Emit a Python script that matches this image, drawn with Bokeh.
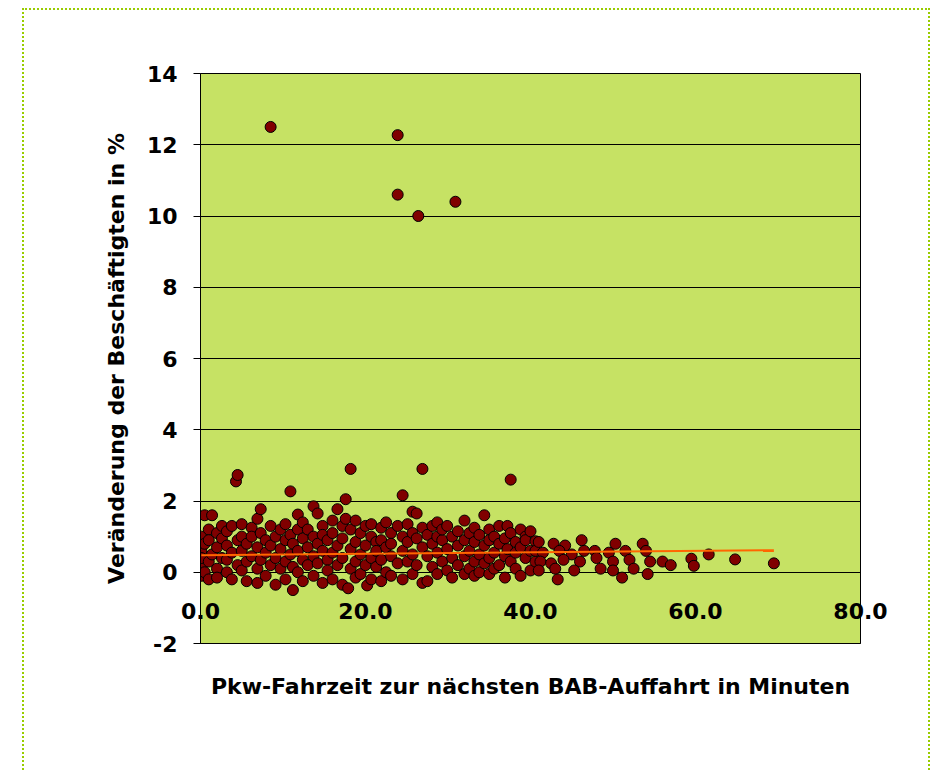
from bokeh.plotting import figure
from bokeh.models import Range1d, FixedTicker, ColumnDataSource
from bokeh.embed import file_html
from bokeh.resources import INLINE

# ---- data ----
x_minutes = [
    0.1, 0.1, 0.1, 0.1, 0.1, 0.5, 0.5, 0.5, 1.0, 1.0, 1.0, 1.0, 1.4, 1.4,
    2.0, 2.0, 2.0, 2.0, 2.6, 2.6, 2.6, 3.2, 3.2, 3.2, 3.2, 3.8, 3.8, 3.8,
    4.3, 4.5, 4.5, 4.5, 5.0, 5.0, 5.0, 5.0, 5.6, 5.6, 5.6, 6.2, 6.2, 6.2,
    6.9, 6.9, 6.9, 6.9, 7.3, 7.3, 7.3, 7.9, 7.9, 7.9, 8.5, 8.5, 8.5, 8.5,
    9.1, 9.1, 9.1, 9.7, 9.7, 9.7, 10.3, 10.3, 10.3, 10.3, 10.9, 10.9, 10.9,
    11.2, 11.2, 11.2, 11.8, 11.8, 11.8, 11.8, 12.4, 12.4, 12.4, 12.4,
    13.0, 13.0, 13.0, 13.7, 13.7, 13.7, 13.7, 14.2, 14.2, 14.2,
    14.8, 14.8, 14.8, 14.8, 15.4, 15.4, 15.4, 16.0, 16.0, 16.0, 16.0,
    16.6, 16.6, 16.6, 17.2, 17.2, 17.2, 17.2, 17.6, 17.6, 17.9,
    18.2, 18.2, 18.2, 18.2, 18.8, 18.8, 18.8, 18.8, 19.4, 19.4, 19.4,
    20.0, 20.0, 20.0, 20.2, 20.7, 20.7, 20.7, 20.7, 21.3, 21.3, 21.3,
    21.9, 21.9, 21.9, 21.9, 22.5, 22.5, 22.5, 23.1, 23.1, 23.1, 23.1,
    23.9, 23.9, 23.9, 23.9, 24.5, 24.5, 24.5, 24.5, 25.1, 25.1, 25.1,
    25.7, 25.7, 25.7, 25.7, 26.2, 26.2, 26.2, 26.4,
    26.9, 26.9, 26.9, 26.9, 27.5, 27.5, 27.5, 28.1, 28.1, 28.1,
    28.7, 28.7, 28.7, 28.7, 29.3, 29.3, 29.3, 29.9, 29.9, 29.9,
    30.5, 30.5, 30.5, 30.9, 31.2, 31.2, 31.2, 32.0, 32.0, 32.0, 32.0,
    32.6, 32.6, 32.6, 33.2, 33.2, 33.2, 33.2, 33.8, 33.8, 33.8,
    34.4, 34.4, 34.4, 35.0, 35.0, 35.0, 35.0, 35.6, 35.6, 35.6,
    36.2, 36.2, 36.2, 36.9, 36.9, 36.9, 37.2, 37.2, 37.6, 37.6, 37.6,
    38.2, 38.2, 38.2, 38.8, 38.8, 38.8, 39.4, 39.4, 39.4, 40.0, 40.0, 40.0,
    40.6, 40.6, 40.6,
    41.0, 42.8, 44.2, 46.2, 50.3, 53.6,
    41.5, 43.5, 45.0, 47.8, 49.5, 51.5, 54.0, 46.5,
    41.2, 42.5, 44.0, 46.0, 48.0, 50.0, 52.0, 54.5, 56.0, 57.0,
    41.0, 43.3, 43.0, 45.3, 48.5, 50.0, 51.1, 52.5, 54.2,
    59.5, 59.8, 61.6, 64.8, 69.5,
]
y_change = [
    0.2, 0.6, 1.0, -0.1, 0.4, 1.6, 0.8, 0.0, 1.2, 0.3, -0.2, 0.9, 1.6, 0.5,
    1.1, 0.7, 0.1, -0.15, 1.3, 0.4, 0.95, 0.0, 0.75, 1.15, 0.35, 1.3, 0.55, -0.2,
    2.55, 2.73, 0.9, 0.2, 1.35, 0.6, 0.05, 1.0, 0.3, 0.8, -0.25, 1.25, 0.45, 1.0,
    1.5, 0.7, 0.1, -0.3, 1.77, 1.1, 0.35, 0.9, 0.55, -0.1, 12.5, 1.3, 0.2, 0.75,
    1.0, 0.4, -0.35, 1.2, 0.65, 0.1, 0.9, 0.3, 1.35, -0.2, 2.27, 1.05, 0.5,
    -0.5, 0.15, 0.8, 1.62, 1.2, 0.6, 0.0, 0.95, 0.35, -0.25, 1.4,
    1.2, 0.7, 0.2, 1.85, 1.0, 0.45, -0.1, 1.65, 0.8, 0.25,
    1.3, 0.6, -0.3, 1.05, 0.9, 0.35, 0.05, 1.45, 1.1, 0.55, -0.2,
    1.77, 0.75, 0.2, 1.3, 0.95, 0.4, -0.35, 2.05, 1.5, -0.45,
    2.9, 0.65, 0.1, 1.2, 1.45, 0.85, 0.3, -0.15, 1.1, 0.5, -0.05,
    1.3, 0.75, 0.2, -0.37, 1.0, 0.4, -0.2, 1.35, 0.85, 0.15, 0.6,
    1.25, 0.9, 0.35, -0.25, 1.4, 0.7, 0.0, 1.1, 0.45, 0.8, -0.1,
    12.27, 10.6, 1.3, 0.25, 2.16, 1.0, 0.6, -0.2, 1.35, 0.85, 0.3,
    1.7, 0.5, -0.05, 1.1, 1.65, 0.95, 0.2, 10.0,
    2.9, 1.25, 0.7, -0.3, -0.25, 0.45, 1.05, 1.3, 0.8, 0.15,
    1.0, 0.55, -0.05, 1.4, 0.9, 0.3, 1.2, 1.3, 0.65, 0.05,
    1.0, 0.4, -0.15, 10.4, 1.15, 0.75, 0.2, 1.45, 0.9, 0.45, -0.05,
    1.1, 0.6, 0.1, 0.85, 0.3, 1.25, -0.1, 1.05, 0.5, 0.0,
    1.6, 0.75, 0.25, 1.2, 0.9, 0.4, -0.05, 1.0, 0.55, 0.1,
    1.3, 0.8, 0.2, 0.95, 0.45, -0.15, 1.3, 0.65, 2.6, 1.1, 0.3,
    0.85, 0.1, 0.55, 1.2, 0.7, -0.1, 1.0, 0.4, 0.9, 1.15, 0.6, 0.05,
    0.87, 0.3, 0.6,
    0.85, 0.8, 0.75, 0.9, 0.8, 0.8,
    0.55, 0.6, 0.5, 0.6, 0.55, 0.6, 0.6, 0.6,
    0.3, 0.25, 0.35, 0.3, 0.4, 0.3, 0.35, 0.3, 0.3, 0.2,
    0.05, -0.2, 0.1, 0.05, 0.1, 0.05, -0.15, 0.1, -0.05,
    0.38, 0.18, 0.5, 0.36, 0.25,
]
trend_x = [0.1, 69.5]
trend_y = [0.48, 0.62]

x_ticks = [0, 20, 40, 60, 80]
x_tick_labels = ["0.0", "20.0", "40.0", "60.0", "80.0"]
y_ticks = [-2, 0, 2, 4, 6, 8, 10, 12, 14]
y_tick_labels = ["-2", "0", "2", "4", "6", "8", "10", "12", "14"]

x_title = "Pkw-Fahrzeit zur nächsten BAB-Auffahrt in Minuten"
y_title = "Veränderung der Beschäftigten in %"

FONT = "DejaVu Sans"
FS = "22px"
FSTYLE = "bold"

p = figure(
    frame_width=660, frame_height=570,
    min_border_left=176, min_border_right=68,
    min_border_top=63, min_border_bottom=129,
    x_range=Range1d(0, 80), y_range=Range1d(-2, 14),
    x_axis_location="below", y_axis_location="left",
    output_backend="svg", toolbar_location=None,
)
p.margin = (8, 0, 0, 22)
p.styles = {"border": "2px dotted #99cc00"}
p.background_fill_color = "#c6e264"
p.border_fill_color = "white"
p.outline_line_color = "black"
p.outline_line_width = 1

# y axis
yt = FixedTicker(ticks=y_ticks)
ya = p.yaxis[0]
ya.ticker = yt
ya.major_label_overrides = {t: s for t, s in zip(y_ticks, y_tick_labels)}
ya.major_tick_out = 7
ya.major_tick_in = 0
ya.minor_tick_out = 0
ya.minor_tick_in = 0
ya.axis_line_color = "black"
ya.major_tick_line_color = "black"
ya.major_label_standoff = 16
ya.major_label_text_font = FONT
ya.major_label_text_font_size = FS
ya.major_label_text_font_style = FSTYLE
ya.major_label_text_color = "black"
ya.axis_label = y_title
ya.axis_label_text_font = FONT
ya.axis_label_text_font_size = FS
ya.axis_label_text_font_style = FSTYLE
ya.axis_label_text_color = "black"
ya.axis_label_standoff = 15

# x axis: labels drawn just above the plot-area bottom, as in the reference
xa = p.xaxis[0]
xa.ticker = FixedTicker(ticks=x_ticks)
xa.major_label_overrides = {t: s for t, s in zip(x_ticks, x_tick_labels)}
xa.major_tick_out = 0
xa.major_tick_in = 0
xa.minor_tick_out = 0
xa.minor_tick_in = 0
xa.axis_line_color = "black"
xa.major_label_standoff = -41
xa.major_label_text_font = FONT
xa.major_label_text_font_size = FS
xa.major_label_text_font_style = FSTYLE
xa.major_label_text_color = "black"
xa.axis_label = x_title
xa.axis_label_text_font = FONT
xa.axis_label_text_font_size = FS
xa.axis_label_text_font_style = FSTYLE
xa.axis_label_text_color = "black"
xa.axis_label_standoff = 52

p.xgrid.visible = False
p.ygrid.ticker = yt
p.ygrid.grid_line_color = "black"
p.ygrid.grid_line_width = 1

src = ColumnDataSource(dict(x=x_minutes, y=y_change))
p.scatter("x", "y", source=src, marker="circle", size=11,
          fill_color="#800000", line_color="black", line_width=1)

p.line(trend_x, trend_y, line_color="#ff6600", line_width=2)

open("out.html", "w").write(file_html(p, INLINE))
